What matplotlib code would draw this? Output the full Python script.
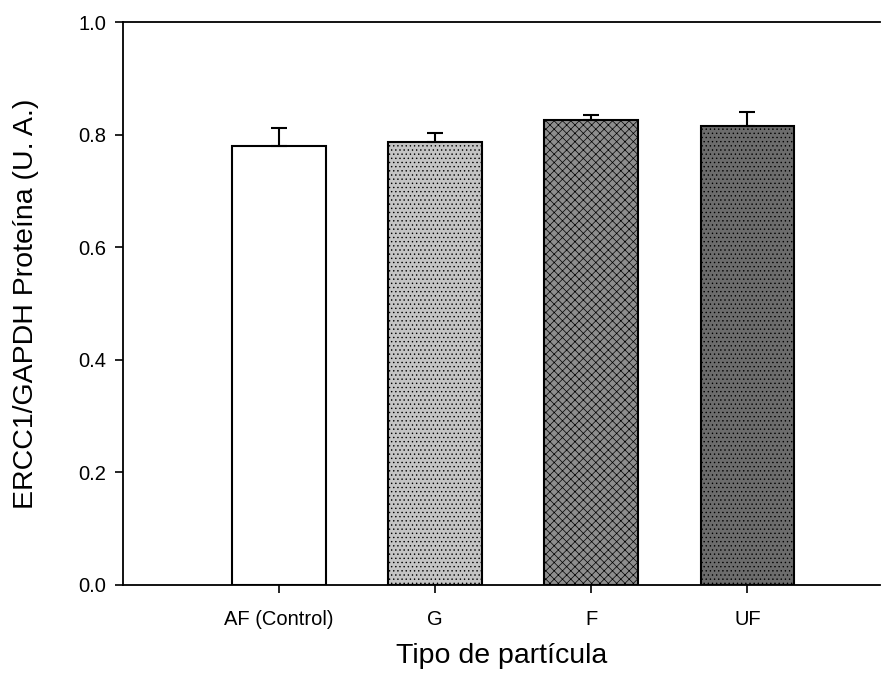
import matplotlib
matplotlib.use("Agg")
import matplotlib.pyplot as plt

categories = ["AF (Control)", "G", "F", "UF"]
values = [0.779, 0.786, 0.826, 0.815]
errors = [0.032, 0.016, 0.008, 0.025]
y_ticks = [0.0, 0.2, 0.4, 0.6, 0.8, 1.0]

face_colors = ["#ffffff", "#c4c4c4", "#8e8e8e", "#6c6c6c"]
hatches = [None, "....", "xxxx", "...."]

plt.rcParams["font.family"] = ["Liberation Sans", "DejaVu Sans"]
plt.rcParams["hatch.linewidth"] = 0.5
plt.rcParams["hatch.color"] = "#303030"

fig = plt.figure(figsize=(8.96, 6.96), dpi=100)
ax = fig.add_axes([123 / 896, 1 - 585 / 696, (880 - 123) / 896, (585 - 22) / 696])

positions = list(range(1, len(categories) + 1))
bars = ax.bar(positions, values, width=0.6, color=face_colors,
              edgecolor="black", linewidth=1.5, zorder=2)
for b, h in zip(bars, hatches):
    if h:
        b.set_hatch(h)
ax.errorbar(positions, values, yerr=[[0] * len(errors), errors], fmt="none",
            ecolor="black", elinewidth=1.5, capsize=6, capthick=1.5, zorder=3)

ax.set_xlim(0, 4.85)
ax.set_ylim(0, 1.0)
ax.set_yticks(y_ticks)
ax.set_yticklabels([f"{t:.1f}" for t in y_ticks])
ax.set_xticks(positions)
ax.set_xticklabels(categories)
ax.tick_params(axis="both", direction="out", length=6, width=1.2, labelsize=14.5)
ax.tick_params(axis="y", pad=6)
ax.tick_params(axis="x", pad=12)
ax.spines["right"].set_visible(False)
for s in ["left", "top", "bottom"]:
    ax.spines[s].set_linewidth(1.3)

ax.set_ylabel("ERCC1/GAPDH Proteína (U. A.)", fontsize=20.5, labelpad=28)
ax.set_xlabel("Tipo de partícula", fontsize=20.5, labelpad=10)

fig.savefig("out.png", dpi=100)
